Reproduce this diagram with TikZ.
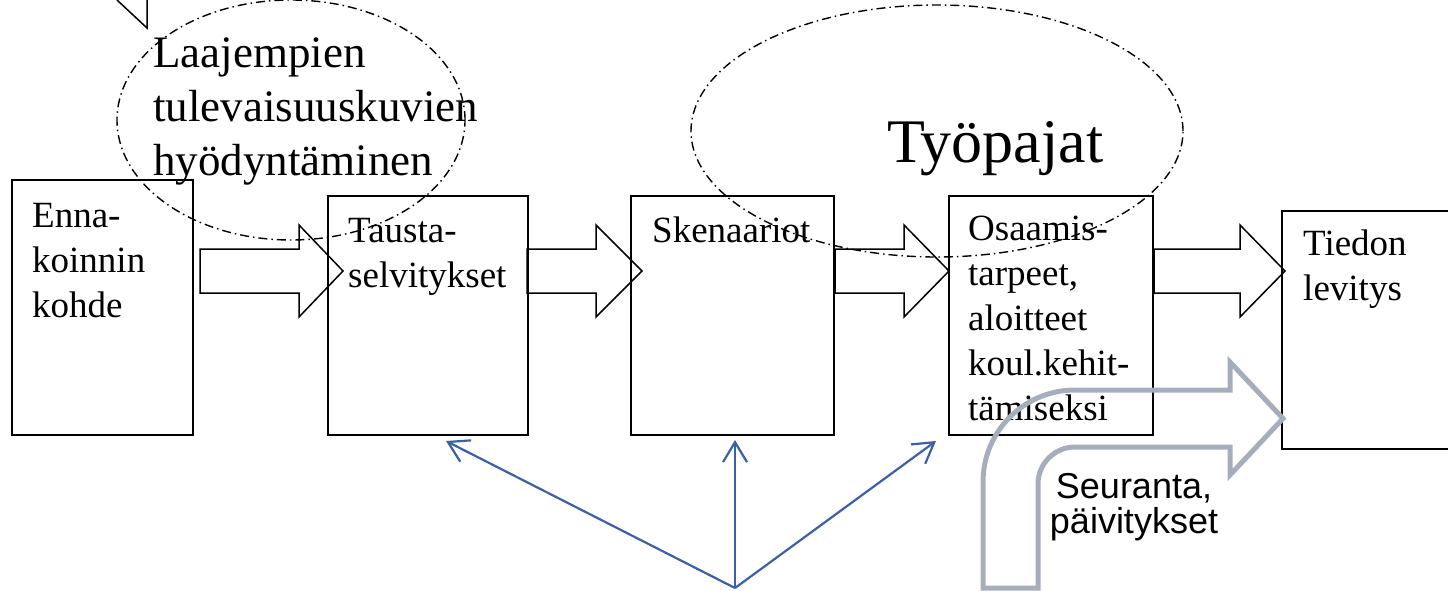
\documentclass[tikz,border=0pt]{standalone}
\usepackage{fontspec}
\setmainfont{Liberation Serif}
\newfontfamily\arialf{Liberation Sans}
\usetikzlibrary{arrows.meta,shapes.geometric}
\definecolor{lineblue}{RGB}{60,96,166}
\definecolor{bentgray}{RGB}{166,173,187}
\tikzset{
  box/.style={draw, line width=1.6pt, inner sep=0pt},
  blk/.style={draw, line width=1.5pt, line join=miter},
  dashdot/.style={draw, line width=1.4pt, dash pattern=on 9pt off 4pt on 1.5pt off 4pt},
  oval/.style={ellipse, dashdot, inner sep=0pt},
  btxt/.style={anchor=north west, inner sep=0pt, align=left, font=\fontsize{37}{45}\selectfont},
  ltxt/.style={anchor=north west, inner sep=0pt, align=left, font=\fontsize{45}{54}\selectfont},
  ptr/.style={draw=lineblue, line width=2.2pt, -{Straight Barb[length=20pt,width=24pt,line width=2.2pt]}},
  bent/.style={draw=bentgray, line width=5pt, line join=miter},
}
\begin{document}
\begin{tikzpicture}[x=1pt,y=-1pt]
\useasboundingbox (0,0) rectangle (1448,590);
\clip (0,0) rectangle (1448,590);

% boxes
\node[box, minimum width=181pt, minimum height=255pt] (b1) at (102.5,307.5) {};
\node[box, minimum width=200pt, minimum height=239pt] (b2) at (428,315.5) {};
\node[box, minimum width=203pt, minimum height=239pt] (b3) at (732.5,315.5) {};
\node[box, minimum width=204pt, minimum height=239pt] (b4) at (1051,315.5) {};
\node[box, minimum width=190pt, minimum height=238pt] (b5) at (1377,330) {};

% box texts
\node[btxt] (t1) at (32,197) {\rule{0pt}{30pt}Enna-\\koinnin\\kohde};
\node[btxt] (t2) at (348,212) {\rule{0pt}{30pt}Tausta-\\selvitykset};
\node[btxt] (t3) at (652,212) {\rule{0pt}{30pt}Skenaariot};
\node[btxt] (t4) at (968,210) {\rule{0pt}{30pt}Osaamis-\\tarpeet,\\aloitteet\\koul.kehit-\\tämiseksi};
\node[btxt] (t5) at (1303,225) {\rule{0pt}{30pt}Tiedon\\levitys};

% block arrows
\draw[blk] (200,249) -- (299,249) -- (299,225) -- (343,271) -- (299,317) -- (299,293) -- (200,293) -- cycle;
\draw[blk] (527,249) -- (596,249) -- (596,225) -- (642,271) -- (596,317) -- (596,293) -- (527,293) -- cycle;
\draw[blk] (835,249) -- (904,249) -- (904,225) -- (949,271) -- (904,317) -- (904,293) -- (835,293) -- cycle;
\draw[blk] (1154,249) -- (1240,249) -- (1240,225) -- (1285,271) -- (1240,317) -- (1240,293) -- (1154,293) -- cycle;

% callout remnant
\draw[line width=1.5pt] (117,0) -- (147,28) -- (147,0);

% ellipses
\node[oval, minimum width=348pt, minimum height=240pt] (e1) at (291,120) {};
\node[oval, minimum width=492pt, minimum height=252pt] (e2) at (937,131) {};
\node[ltxt] (lt) at (153,31) {\rule{0pt}{36pt}Laajempien\\tulevaisuuskuvien\\hyödyntäminen};
\node[anchor=base west, inner sep=0pt, font=\fontsize{62}{74}\selectfont] (ty) at (887,162) {Työpajat};

% bent arrow
\draw[bent] (983,588) -- (983,482) arc[start angle=180, end angle=90, radius=92pt] -- (1230,390) -- (1230,362) -- (1283,418.5) -- (1230,475) -- (1230,447) -- (1075,447) arc[start angle=90, end angle=180, radius=37pt] -- (1038,588) -- cycle;
\node[anchor=north, inner sep=0pt, align=center, font=\arialf\fontsize{36}{35}\selectfont] (se) at (1134,470) {\rule{0pt}{28pt}Seuranta,\\päivitykset};

% blue pointers
\coordinate (src) at (735,588);
\coordinate (p1) at (446,441);
\coordinate (p2) at (735,440);
\coordinate (p3) at (936,441);
\draw[ptr] (src) -- (p1);
\draw[ptr] (src) -- (p2);
\draw[ptr] (src) -- (p3);
\end{tikzpicture}
\end{document}
